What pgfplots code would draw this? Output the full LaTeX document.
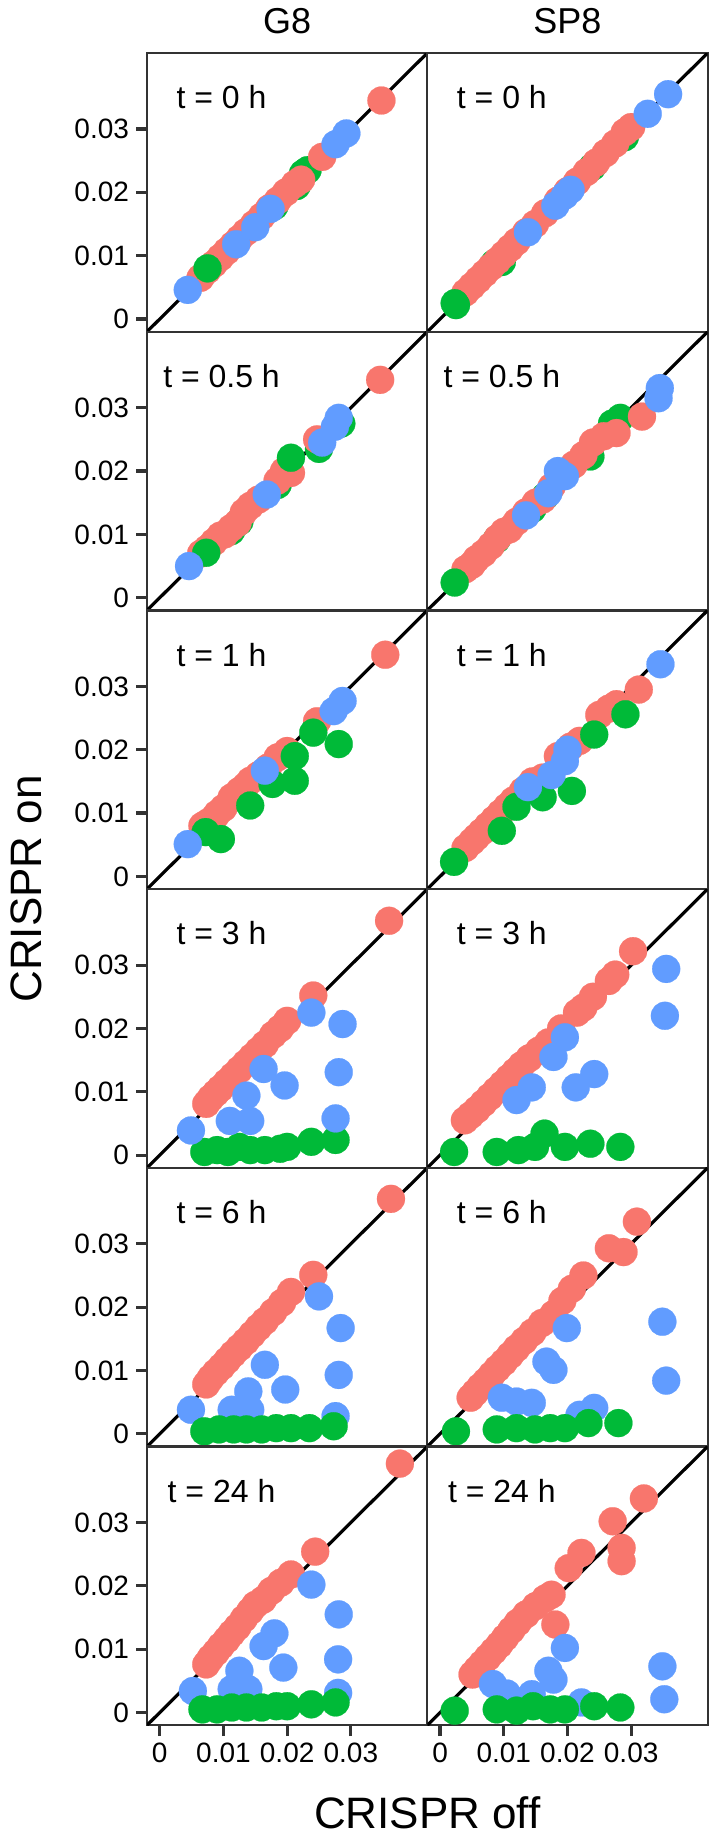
\documentclass[border=0pt]{standalone}
\usepackage{pgfplots}
\pgfplotsset{compat=1.18}
\usepackage{fontspec}
\setmainfont{Liberation Sans}
\definecolor{gred}{HTML}{F8766D}
\definecolor{ggreen}{HTML}{00BA38}
\definecolor{gblue}{HTML}{619CFF}
\definecolor{gframe}{HTML}{333333}
\tikzset{tlab/.style={anchor=base, font=\fontsize{16}{16}\selectfont}}
\pgfplotsset{
  mypanel/.style={width=140.15pt,height=139.35pt,scale only axis,
    xmin=-0.002,xmax=0.042,ymin=-0.002,ymax=0.042,
    axis line style={draw=gframe,line width=1.1pt},
    xtick=\empty, ytick=\empty, anchor=north west,
    tick style={draw=gframe,line width=1.6pt}, tick align=outside, major tick length=5.5pt,
    tick label style={font=\fontsize{14}{14}\selectfont}, scaled ticks=false},
  myleft/.style={ytick={0,0.01,0.02,0.03}, yticklabels={0,0.01,0.02,0.03}, ytick pos=left},
  mybottom/.style={xtick={0,0.01,0.02,0.03}, xticklabels={0,0.01,0.02,0.03}, xtick pos=bottom},
  serR/.style={only marks, mark=*, mark size=7pt, color=gred, mark options={draw=gred, fill=gred, line width=0.1pt}},
  serG/.style={only marks, mark=*, mark size=7pt, color=ggreen, mark options={draw=ggreen, fill=ggreen, line width=0.1pt}},
  serB/.style={only marks, mark=*, mark size=7pt, color=gblue, mark options={draw=gblue, fill=gblue, line width=0.1pt}},
  diag/.style={black, line width=1.6pt},
}
\begin{document}
\begin{tikzpicture}
\path[use as bounding box] (0,0) rectangle (354.5pt,-918pt);
\node[anchor=base, font=\fontsize{18}{18}\selectfont] at (143.6pt,-16.75pt) {G8};
\node[anchor=base, font=\fontsize{18}{18}\selectfont] at (283.7pt,-16.75pt) {SP8};
\node[anchor=base, rotate=90, font=\fontsize{22}{22}\selectfont] at (20.5pt,-444.5pt) {CRISPR on};
\node[anchor=base, font=\fontsize{22}{22}\selectfont] at (213.65pt,-914pt) {CRISPR off};
% ---- row 1: t = 0 h
\begin{axis}[mypanel, at={(73.5pt,-26.5pt)}, myleft]
\addplot[serG] coordinates {(0.0180,0.0178) (0.0215,0.0210) (0.0232,0.0235) (0.0225,0.0230)};
\addplot[serR] coordinates {(0.0064,0.0065) (0.0075,0.0077) (0.0085,0.0087) (0.0095,0.0097) (0.0105,0.0107) (0.0115,0.0117) (0.0125,0.0127) (0.0135,0.0137) (0.0148,0.0150) (0.0160,0.0162) (0.0172,0.0175) (0.0185,0.0187) (0.0198,0.0200) (0.0212,0.0213) (0.0222,0.0220) (0.0255,0.0256) (0.0348,0.0345)};
\addplot[serG] coordinates {(0.0075,0.0080)};
\addplot[serB] coordinates {(0.0044,0.0046) (0.0120,0.0118) (0.0150,0.0145) (0.0174,0.0174) (0.0276,0.0276) (0.0293,0.0293)};
\addplot[diag] coordinates {(-0.002,-0.002) (0.042,0.042)};
\node[tlab] at (axis cs:0.0097,0.0332) {t = 0 h};
\end{axis}
\begin{axis}[mypanel, at={(213.65pt,-26.5pt)}]
\addplot[serG] coordinates {(0.0097,0.0090) (0.0085,0.0088) (0.0239,0.0240) (0.0290,0.0287)};
\addplot[serR] coordinates {(0.0040,0.0042) (0.0050,0.0052) (0.0060,0.0062) (0.0070,0.0072) (0.0080,0.0082) (0.0090,0.0092) (0.0100,0.0102) (0.0110,0.0112) (0.0120,0.0122) (0.0135,0.0137) (0.0149,0.0150) (0.0165,0.0167) (0.0185,0.0187) (0.0200,0.0202) (0.0215,0.0217) (0.0230,0.0232) (0.0245,0.0247) (0.0260,0.0262) (0.0275,0.0277) (0.0290,0.0295) (0.0300,0.0303)};
\addplot[serG] coordinates {(0.0023,0.0025) (0.0025,0.0022)};
\addplot[serB] coordinates {(0.0138,0.0137) (0.0181,0.0179) (0.0196,0.0195) (0.0205,0.0204) (0.0326,0.0324) (0.0358,0.0355)};
\addplot[diag] coordinates {(-0.002,-0.002) (0.042,0.042)};
\node[tlab] at (axis cs:0.0097,0.0332) {t = 0 h};
\end{axis}
% ---- row 2: t = 0.5 h
\begin{axis}[mypanel, at={(73.5pt,-165.85pt)}, myleft]
\addplot[serG] coordinates {(0.0112,0.0105) (0.0125,0.0120) (0.0185,0.0178) (0.0250,0.0235) (0.0285,0.0275)};
\addplot[serR] coordinates {(0.0065,0.0070) (0.0075,0.0078) (0.0085,0.0088) (0.0095,0.0098) (0.0102,0.0100) (0.0112,0.0110) (0.0122,0.0118) (0.0132,0.0135) (0.0142,0.0145) (0.0155,0.0155) (0.0185,0.0185) (0.0195,0.0200) (0.0206,0.0197) (0.0247,0.0250) (0.0346,0.0344)};
\addplot[serG] coordinates {(0.0073,0.0071) (0.0206,0.0221)};
\addplot[serB] coordinates {(0.0046,0.0050) (0.0168,0.0163) (0.0255,0.0245) (0.0275,0.0270) (0.0281,0.0284)};
\addplot[diag] coordinates {(-0.002,-0.002) (0.042,0.042)};
\node[tlab] at (axis cs:0.0097,0.0332) {t = 0.5 h};
\end{axis}
\begin{axis}[mypanel, at={(213.65pt,-165.85pt)}]
\addplot[serG] coordinates {(0.0089,0.0092) (0.0145,0.0140) (0.0165,0.0160) (0.0236,0.0223) (0.0283,0.0284) (0.0270,0.0275)};
\addplot[serR] coordinates {(0.0040,0.0045) (0.0050,0.0052) (0.0057,0.0061) (0.0068,0.0070) (0.0080,0.0082) (0.0090,0.0094) (0.0100,0.0104) (0.0109,0.0108) (0.0120,0.0120) (0.0135,0.0135) (0.0150,0.0150) (0.0161,0.0155) (0.0175,0.0175) (0.0190,0.0192) (0.0210,0.0210) (0.0225,0.0225) (0.0240,0.0245) (0.0257,0.0255) (0.0277,0.0260) (0.0317,0.0286)};
\addplot[serG] coordinates {(0.0023,0.0024)};
\addplot[serB] coordinates {(0.0135,0.0130) (0.0170,0.0165) (0.0196,0.0192) (0.0185,0.0200) (0.0343,0.0315) (0.0345,0.0331)};
\addplot[diag] coordinates {(-0.002,-0.002) (0.042,0.042)};
\node[tlab] at (axis cs:0.0097,0.0332) {t = 0.5 h};
\end{axis}
% ---- row 3: t = 1 h
\begin{axis}[mypanel, at={(73.5pt,-305.2pt)}, myleft]
\addplot[serR] coordinates {(0.0067,0.0080) (0.0075,0.0085) (0.0085,0.0092) (0.0090,0.0099) (0.0100,0.0108) (0.0113,0.0125) (0.0125,0.0135) (0.0135,0.0143) (0.0142,0.0151) (0.0155,0.0160) (0.0170,0.0172) (0.0185,0.0188) (0.0200,0.0198) (0.0247,0.0245) (0.0354,0.0350)};
\addplot[serG] coordinates {(0.0072,0.0070) (0.0096,0.0059) (0.0142,0.0112) (0.0177,0.0146) (0.0212,0.0151) (0.0212,0.0190) (0.0241,0.0227) (0.0281,0.0209)};
\addplot[serB] coordinates {(0.0044,0.0051) (0.0165,0.0167) (0.0273,0.0261) (0.0287,0.0277)};
\addplot[diag] coordinates {(-0.002,-0.002) (0.042,0.042)};
\node[tlab] at (axis cs:0.0097,0.0332) {t = 1 h};
\end{axis}
\begin{axis}[mypanel, at={(213.65pt,-305.2pt)}]
\addplot[serR] coordinates {(0.0040,0.0045) (0.0050,0.0055) (0.0057,0.0062) (0.0065,0.0070) (0.0075,0.0080) (0.0085,0.0090) (0.0095,0.0100) (0.0105,0.0110) (0.0115,0.0120) (0.0130,0.0135) (0.0145,0.0150) (0.0161,0.0156) (0.0185,0.0190) (0.0205,0.0205) (0.0219,0.0214) (0.0250,0.0255) (0.0265,0.0265) (0.0277,0.0272) (0.0312,0.0295)};
\addplot[serG] coordinates {(0.0022,0.0023) (0.0097,0.0072) (0.0120,0.0110) (0.0161,0.0125) (0.0207,0.0135) (0.0242,0.0224) (0.0291,0.0256)};
\addplot[serB] coordinates {(0.0138,0.0141) (0.0175,0.0160) (0.0196,0.0182) (0.0200,0.0200) (0.0346,0.0335)};
\addplot[diag] coordinates {(-0.002,-0.002) (0.042,0.042)};
\node[tlab] at (axis cs:0.0097,0.0332) {t = 1 h};
\end{axis}
% ---- row 4: t = 3 h
\begin{axis}[mypanel, at={(73.5pt,-444.55pt)}, myleft]
\addplot[serR] coordinates {(0.0073,0.0081) (0.0080,0.0090) (0.0088,0.0098) (0.0095,0.0105) (0.0105,0.0115) (0.0115,0.0125) (0.0125,0.0135) (0.0135,0.0145) (0.0145,0.0155) (0.0155,0.0165) (0.0165,0.0175) (0.0178,0.0190) (0.0189,0.0200) (0.0200,0.0212) (0.0241,0.0252) (0.0360,0.0370)};
\addplot[serG] coordinates {(0.0070,0.0005) (0.0090,0.0008) (0.0107,0.0005) (0.0125,0.0013) (0.0142,0.0008) (0.0165,0.0008) (0.0189,0.0010) (0.0200,0.0013) (0.0238,0.0021) (0.0276,0.0024)};
\addplot[serB] coordinates {(0.0049,0.0039) (0.0110,0.0054) (0.0142,0.0054) (0.0136,0.0094) (0.0163,0.0136) (0.0196,0.0110) (0.0238,0.0225) (0.0287,0.0207) (0.0281,0.0131) (0.0276,0.0058)};
\addplot[diag] coordinates {(-0.002,-0.002) (0.042,0.042)};
\node[tlab] at (axis cs:0.0097,0.0332) {t = 3 h};
\end{axis}
\begin{axis}[mypanel, at={(213.65pt,-444.55pt)}]
\addplot[serR] coordinates {(0.0039,0.0055) (0.0048,0.0063) (0.0058,0.0072) (0.0068,0.0082) (0.0078,0.0092) (0.0088,0.0102) (0.0098,0.0112) (0.0108,0.0122) (0.0118,0.0132) (0.0128,0.0142) (0.0140,0.0153) (0.0155,0.0165) (0.0170,0.0178) (0.0190,0.0200) (0.0215,0.0225) (0.0225,0.0233) (0.0240,0.0250) (0.0265,0.0275) (0.0275,0.0285) (0.0303,0.0322)};
\addplot[serG] coordinates {(0.0022,0.0005) (0.0089,0.0005) (0.0123,0.0008) (0.0149,0.0013) (0.0164,0.0034) (0.0196,0.0013) (0.0236,0.0018) (0.0283,0.0013)};
\addplot[serB] coordinates {(0.0120,0.0087) (0.0144,0.0107) (0.0178,0.0155) (0.0196,0.0186) (0.0213,0.0107) (0.0242,0.0128) (0.0353,0.0220) (0.0355,0.0294)};
\addplot[diag] coordinates {(-0.002,-0.002) (0.042,0.042)};
\node[tlab] at (axis cs:0.0097,0.0332) {t = 3 h};
\end{axis}
% ---- row 5: t = 6 h
\begin{axis}[mypanel, at={(73.5pt,-583.9pt)}, myleft]
\addplot[serR] coordinates {(0.0073,0.0078) (0.0080,0.0088) (0.0088,0.0097) (0.0097,0.0106) (0.0106,0.0116) (0.0115,0.0126) (0.0125,0.0136) (0.0135,0.0146) (0.0145,0.0157) (0.0155,0.0168) (0.0165,0.0178) (0.0178,0.0192) (0.0192,0.0207) (0.0206,0.0224) (0.0241,0.0251) (0.0363,0.0371)};
\addplot[serB] coordinates {(0.0049,0.0038) (0.0113,0.0038) (0.0142,0.0038) (0.0139,0.0067) (0.0165,0.0109) (0.0197,0.0070) (0.0250,0.0217) (0.0284,0.0167) (0.0281,0.0093) (0.0276,0.0028)};
\addplot[serG] coordinates {(0.0070,0.0004) (0.0093,0.0007) (0.0116,0.0007) (0.0136,0.0007) (0.0160,0.0007) (0.0183,0.0009) (0.0206,0.0009) (0.0235,0.0009) (0.0273,0.0012)};
\addplot[diag] coordinates {(-0.002,-0.002) (0.042,0.042)};
\node[tlab] at (axis cs:0.0097,0.0332) {t = 6 h};
\end{axis}
\begin{axis}[mypanel, at={(213.65pt,-583.9pt)}]
\addplot[serR] coordinates {(0.0048,0.0057) (0.0055,0.0065) (0.0063,0.0074) (0.0072,0.0083) (0.0081,0.0093) (0.0090,0.0103) (0.0100,0.0113) (0.0110,0.0124) (0.0120,0.0135) (0.0132,0.0147) (0.0145,0.0160) (0.0160,0.0175) (0.0178,0.0189) (0.0192,0.0210) (0.0207,0.0229) (0.0225,0.0250) (0.0265,0.0293) (0.0288,0.0287) (0.0309,0.0335)};
\addplot[serB] coordinates {(0.0097,0.0057) (0.0120,0.0051) (0.0144,0.0049) (0.0167,0.0114) (0.0178,0.0101) (0.0199,0.0167) (0.0219,0.0030) (0.0242,0.0041) (0.0349,0.0177) (0.0355,0.0084)};
\addplot[serG] coordinates {(0.0025,0.0004) (0.0089,0.0007) (0.0120,0.0009) (0.0149,0.0007) (0.0173,0.0009) (0.0196,0.0009) (0.0233,0.0017) (0.0280,0.0017)};
\addplot[diag] coordinates {(-0.002,-0.002) (0.042,0.042)};
\node[tlab] at (axis cs:0.0097,0.0332) {t = 6 h};
\end{axis}
% ---- row 6: t = 24 h
\begin{axis}[mypanel, at={(73.5pt,-723.25pt)}, myleft, mybottom]
\addplot[serR] coordinates {(0.0073,0.0076) (0.0080,0.0086) (0.0088,0.0095) (0.0096,0.0105) (0.0105,0.0115) (0.0113,0.0125) (0.0122,0.0135) (0.0132,0.0148) (0.0142,0.0160) (0.0150,0.0170) (0.0162,0.0178) (0.0175,0.0192) (0.0190,0.0205) (0.0206,0.0218) (0.0244,0.0254) (0.0377,0.0393)};
\addplot[serB] coordinates {(0.0052,0.0034) (0.0113,0.0037) (0.0139,0.0037) (0.0125,0.0066) (0.0163,0.0105) (0.0180,0.0125) (0.0194,0.0071) (0.0238,0.0202) (0.0281,0.0155) (0.0280,0.0084) (0.0280,0.0031)};
\addplot[serG] coordinates {(0.0067,0.0005) (0.0090,0.0005) (0.0113,0.0008) (0.0136,0.0008) (0.0160,0.0008) (0.0183,0.0010) (0.0200,0.0010) (0.0238,0.0013) (0.0276,0.0016)};
\addplot[diag] coordinates {(-0.002,-0.002) (0.042,0.042)};
\node[tlab] at (axis cs:0.0097,0.0332) {t = 24 h};
\end{axis}
\begin{axis}[mypanel, at={(213.65pt,-723.25pt)}, mybottom]
\addplot[serR] coordinates {(0.0051,0.0060) (0.0058,0.0068) (0.0066,0.0077) (0.0075,0.0087) (0.0084,0.0097) (0.0093,0.0107) (0.0102,0.0118) (0.0112,0.0130) (0.0122,0.0142) (0.0135,0.0155) (0.0150,0.0168) (0.0165,0.0180) (0.0175,0.0186) (0.0181,0.0139) (0.0202,0.0228) (0.0222,0.0252) (0.0271,0.0302) (0.0285,0.0260) (0.0285,0.0239) (0.0320,0.0338)};
\addplot[serB] coordinates {(0.0083,0.0045) (0.0105,0.0030) (0.0144,0.0029) (0.0170,0.0066) (0.0178,0.0052) (0.0196,0.0102) (0.0222,0.0016) (0.0349,0.0073) (0.0352,0.0021)};
\addplot[serG] coordinates {(0.0023,0.0003) (0.0089,0.0005) (0.0120,0.0003) (0.0146,0.0010) (0.0173,0.0005) (0.0196,0.0005) (0.0242,0.0010) (0.0283,0.0008)};
\addplot[diag] coordinates {(-0.002,-0.002) (0.042,0.042)};
\node[tlab] at (axis cs:0.0097,0.0332) {t = 24 h};
\end{axis}
\end{tikzpicture}
\end{document}
